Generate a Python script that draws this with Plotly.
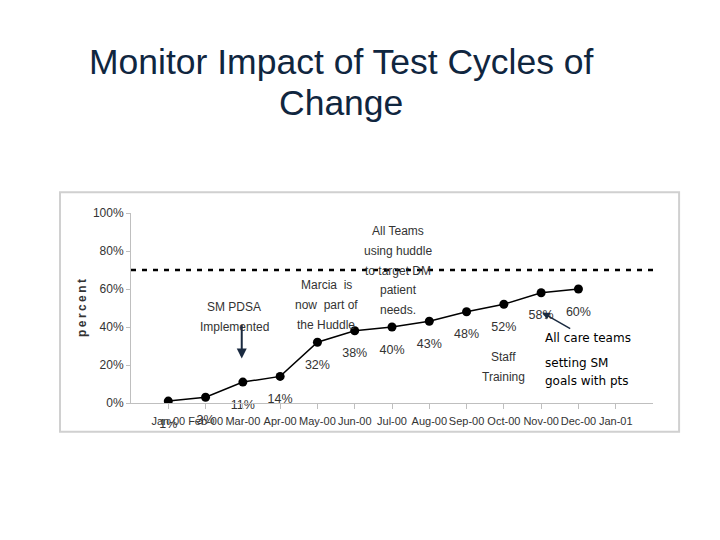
import plotly.graph_objects as go

months = ["Jan-00", "Feb-00", "Mar-00", "Apr-00", "May-00", "Jun-00", "Jul-00",
          "Aug-00", "Sep-00", "Oct-00", "Nov-00", "Dec-00", "Jan-01"]
values = [1, 3, 11, 14, 32, 38, 40, 43, 48, 52, 58, 60]
labels = [f"{v}%" for v in values]
goal = 70
yticks = [0, 20, 40, 60, 80, 100]
ytick_text = [f"{t}%" for t in yticks]

chart_font = "Liberation Sans, Arial"
txt_color = "#333333"
LINE_STEP = 10.3  # y-units between text lines of a note

fig = go.Figure()
fig.add_trace(go.Scatter(
    x=months[:len(values)], y=values, mode="lines+markers",
    line=dict(color="black", width=1.5),
    marker=dict(color="black", size=9),
    showlegend=False, hoverinfo="skip",
))
# data labels (invisible large markers push text further below the points)
fig.add_trace(go.Scatter(
    x=months[:len(values)], y=values, mode="markers+text",
    marker=dict(size=26, opacity=0),
    text=labels, textposition="bottom center",
    textfont=dict(family=chart_font, size=12.5, color=txt_color),
    cliponaxis=False, showlegend=False, hoverinfo="skip",
))

# goal line
fig.add_shape(type="line", xref="paper", x0=0, x1=1, yref="y", y0=goal, y1=goal,
              line=dict(color="black", width=2.5, dash="5px,6px"))

# chart border
fig.add_shape(type="rect", xref="paper", yref="paper", x0=-0.136, x1=1.050,
              y0=-0.151, y1=1.109, line=dict(color="#d0d0d0", width=2), layer="below")

ann_font = dict(family=chart_font, size=12, color=txt_color)
notes = [
    (1.77, 50.3, ["SM PDSA", "Implemented"]),
    (4.24, 61.9, ["Marcia  is", "now  part of", "the Huddle"]),
    (6.17, 90.3, ["All Teams", "using huddle", "to target DM", "patient", "needs."]),
    (8.99, 24.1, ["Staff", "Training"]),
]
for x, y, lines in notes:
    for i, t in enumerate(lines):
        fig.add_annotation(x=x, y=y - i * LINE_STEP, text=t, showarrow=False,
                           font=ann_font, xanchor="center", yanchor="middle")

# arrows
fig.add_annotation(x=1.97, y=23.4, ax=1.97, ay=41.8, axref="x", ayref="y",
                   xref="x", yref="y", text="", showarrow=True, arrowhead=2,
                   arrowsize=1, arrowwidth=2, arrowcolor="#1a2a40")
fig.add_annotation(x=10.03, y=47.6, ax=10.82, ay=38.7, axref="x", ayref="y",
                   xref="x", yref="y", text="", showarrow=True, arrowhead=2,
                   arrowsize=1, arrowwidth=1.5, arrowcolor="#1a2a40")

care_font = dict(family="DejaVu Sans", size=12, color="black")
for y, t in [(34.4, "All care teams"), (20.8, "setting SM"), (11.8, "goals with pts")]:
    fig.add_annotation(x=10.04, y=y, xref="x", yref="y", showarrow=False, text=t,
                       xanchor="left", yanchor="middle", font=care_font)

# title
title_font = dict(family="Liberation Sans, Arial", size=35.5, color="#10263f")
for y, t in [(1.795, "Monitor Impact of Test Cycles of"), (1.579, "Change")]:
    fig.add_annotation(x=0.403, y=y, xref="paper", yref="paper", showarrow=False,
                       text=t, xanchor="center", yanchor="middle", font=title_font)

fig.update_layout(
    width=720, height=540,
    paper_bgcolor="white", plot_bgcolor="white",
    margin=dict(l=123, r=75, t=205, b=145, autoexpand=False),
    xaxis=dict(type="category", categoryorder="array", categoryarray=months,
               range=[-1, 13], showgrid=False, showline=True, linecolor="#bfbfbf",
               linewidth=1, ticks="outside", tickcolor="#bfbfbf", ticklen=5,
               tickvals=months, ticktext=months, zeroline=False, tickangle=0,
               automargin=False, ticklabelstandoff=3,
               tickfont=dict(family=chart_font, size=11, color=txt_color)),
    yaxis=dict(range=[0, 100], tickvals=yticks, ticktext=ytick_text, showgrid=False,
               showline=True, linecolor="#bfbfbf", linewidth=1, ticks="outside",
               tickcolor="#bfbfbf", ticklen=4, zeroline=False, automargin=False,
               tickfont=dict(family=chart_font, size=12, color=txt_color),
               title=dict(text="<b>p\u2009e\u2009r\u2009c\u2009e\u2009n\u2009t</b>", standoff=3,
                          font=dict(family="Liberation Sans, Arial", size=12, color=txt_color))),
)

fig.write_html("out.html")
